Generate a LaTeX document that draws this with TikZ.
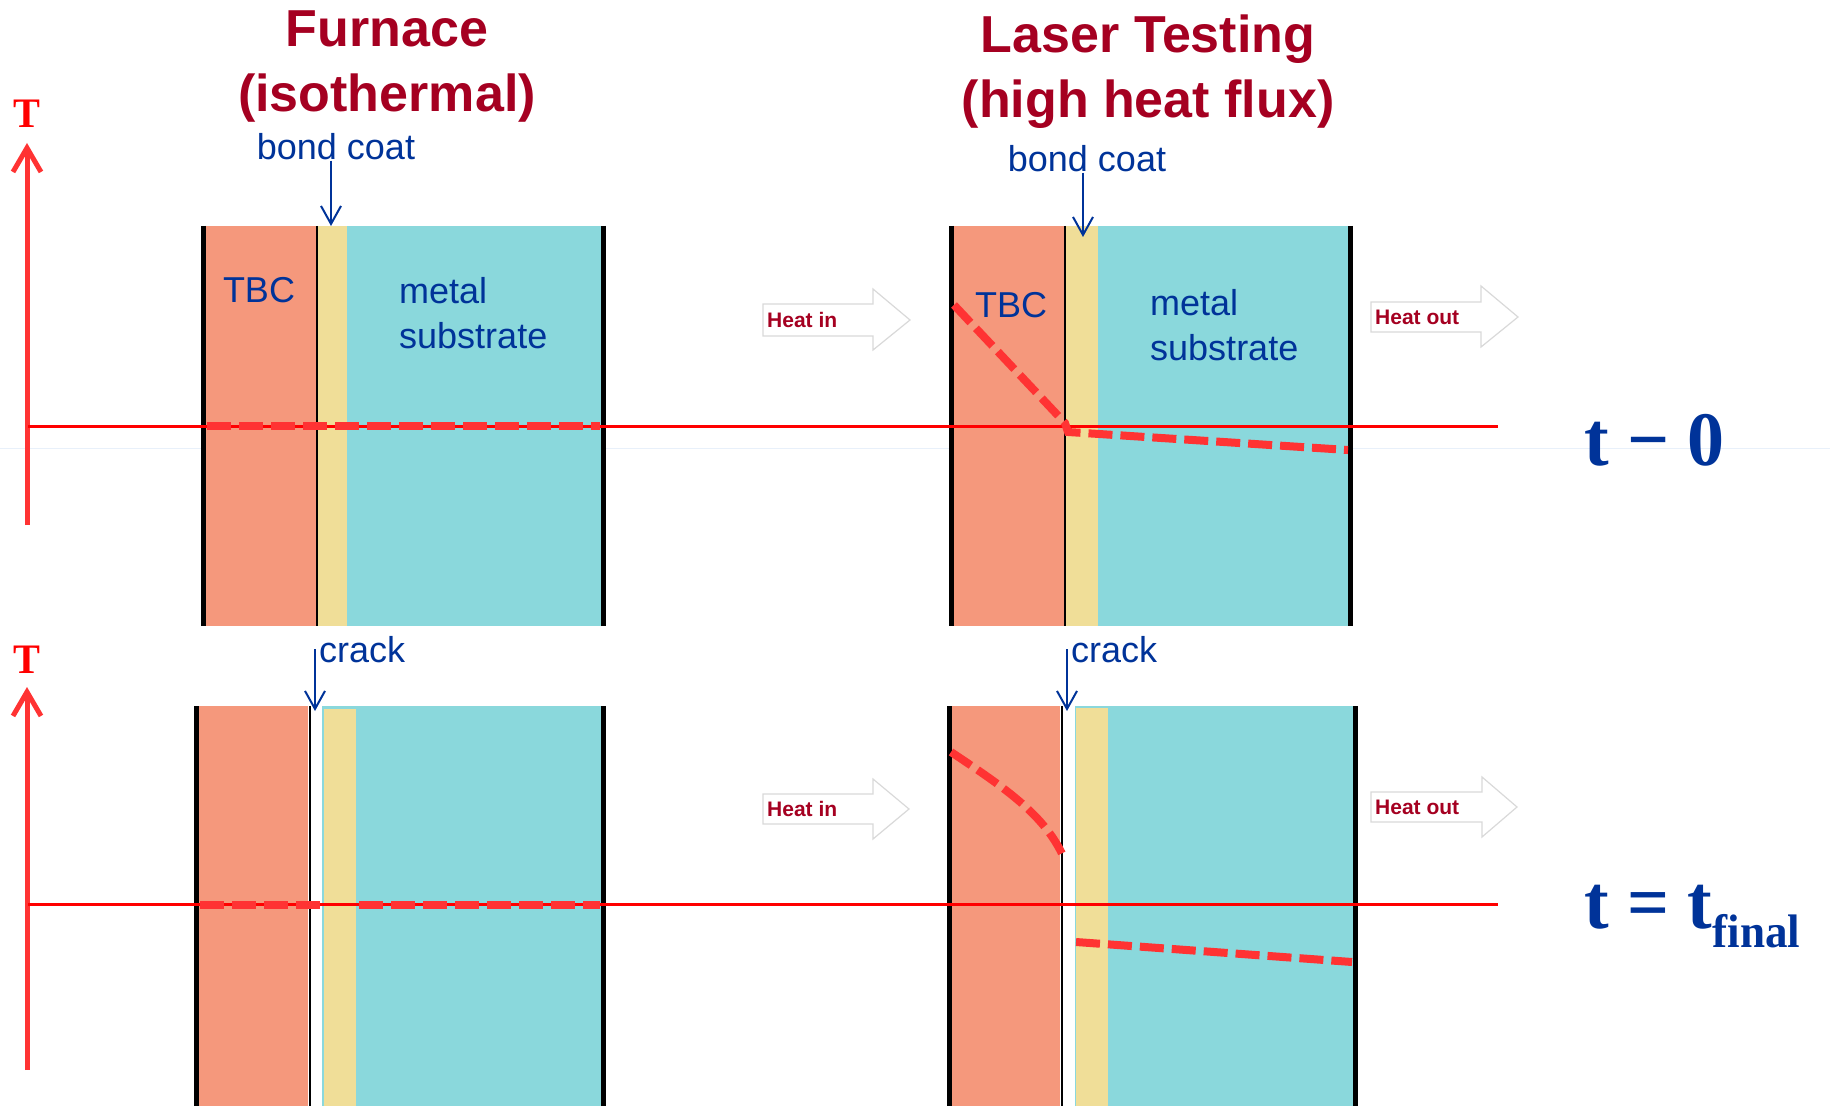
\documentclass[tikz,border=0pt]{standalone}
\usepackage{fontspec}
\setmainfont{Liberation Sans}
\newfontfamily\tnr{Liberation Serif}[FakeStretch=0.96]
\usetikzlibrary{arrows.meta}

\definecolor{tbccol}{RGB}{245,152,124}
\definecolor{bondcol}{RGB}{240,222,152}
\definecolor{metalcol}{RGB}{138,216,220}
\definecolor{lblblue}{RGB}{0,51,153}
\definecolor{ttlred}{RGB}{165,0,33}
\definecolor{tred}{RGB}{255,51,51}
\definecolor{faint}{RGB}{232,240,250}

\tikzset{
  ttl/.style={font=\fontsize{52}{60}\selectfont\bfseries, text=ttlred, inner sep=0pt, anchor=base},
  lbl/.style={font=\fontsize{36}{42}\selectfont, text=lblblue, inner sep=0pt, anchor=base west},
  heat/.style={font=\fontsize{21}{25}\selectfont\bfseries, text=ttlred, inner sep=0pt, anchor=base west},
  tlbl/.style={font={\tnr\bfseries\fontsize{77}{80}\selectfont}, text=lblblue, inner sep=0pt, anchor=base west},
  Tlbl/.style={font={\tnr\bfseries\fontsize{42}{46}\selectfont}, text=red, inner sep=0pt, anchor=base},
  pointer/.style={draw=lblblue, line width=2pt, -{Straight Barb[length=18pt,width=20pt]}},
  taxis/.style={draw=tred, line width=5pt, -{Straight Barb[length=24pt,width=28pt]}},
  rim/.style={draw=black, line width=5pt},
  seam/.style={draw=black, line width=2pt},
  level/.style={draw=red, line width=3pt},
  temp/.style={draw=tred, line width=8pt, dash pattern=on 24pt off 8pt},
  heatbox/.style={draw=black!15, line width=1.2pt, fill=white}
}

\begin{document}
\begin{tikzpicture}[x=1pt, y=-1pt]
  \useasboundingbox (0,0) rectangle (1830,1107);
  \draw[faint, line width=1pt] (0,448) -- (1830,448);

  % titles
  \node[ttl] (fur) at (387,47) {Furnace};
  \node[ttl] (iso) at (387,112) {(isothermal)};
  \node[ttl] (las) at (1148,53) {Laser Testing};
  \node[ttl] (hhf) at (1148,118) {(high heat flux)};

  % temperature axes
  \node[Tlbl] (TA) at (27,128) {T};
  \node[Tlbl] (TB) at (27,673) {T};
  \coordinate (axA0) at (27,525);
  \coordinate (axA1) at (27,143);
  \coordinate (axB0) at (27,1070);
  \coordinate (axB1) at (27,687);
  \draw[taxis] (axA0) -- (axA1);
  \draw[taxis] (axB0) -- (axB1);

  % furnace, t = 0
  \fill[tbccol] (206,226) rectangle (316,626);
  \fill[bondcol] (317,226) rectangle (347,626);
  \fill[metalcol] (347,226) rectangle (601,626);
  \draw[seam] (316.5,226) -- (316.5,626);
  \draw[rim] (203,226) -- (203,626);
  \draw[rim] (603,226) -- (603,626);

  % laser, t = 0
  \fill[tbccol] (953,226) rectangle (1064,626);
  \fill[bondcol] (1066,226) rectangle (1098,626);
  \fill[metalcol] (1098,226) rectangle (1348,626);
  \draw[seam] (1065,226) -- (1065,626);
  \draw[rim] (951,226) -- (951,626);
  \draw[rim] (1350,226) -- (1350,626);

  % furnace, t = tfinal
  \fill[tbccol] (199,706) rectangle (308,1106);
  \fill[metalcol] (322,706) rectangle (601,1106);
  \fill[bondcol] (324,709) rectangle (356,1106);
  \draw[seam] (309.5,706) -- (309.5,1106);
  \draw[rim] (196,706) -- (196,1106);
  \draw[rim] (603,706) -- (603,1106);

  % laser, t = tfinal
  \fill[tbccol] (951,706) rectangle (1060,1106);
  \fill[metalcol] (1075,706) rectangle (1353,1106);
  \fill[bondcol] (1076,708) rectangle (1108,1106);
  \draw[seam] (1062,706) -- (1062,1106);
  \draw[rim] (949,706) -- (949,1106);
  \draw[rim] (1355,706) -- (1355,1106);

  % reference levels
  \draw[level] (28,426) -- (1498,426);
  \draw[level] (28,904) -- (1498,904);

  % temperature profiles
  \draw[temp] (207,426) -- (600,426);
  \draw[temp] (954,305) -- (1065,423) -- (1068,432) -- (1348,450);
  \draw[temp] (200,905) -- (320,905);
  \draw[temp] (359,905) -- (600,905);
  \draw[temp] (951,752) .. controls (1005,788) and (1045,815) .. (1064,858);
  \draw[temp] (1076,942) -- (1352,962);

  % layer labels
  \node[lbl, anchor=base] (tbcA) at (259,302) {TBC};
  \node[lbl] (mtA) at (399,303) {metal};
  \node[lbl] (sbA) at (399,348) {substrate};
  \node[lbl, anchor=base] (tbcB) at (1011,317) {TBC};
  \node[lbl] (mtB) at (1150,315) {metal};
  \node[lbl] (sbB) at (1150,360) {substrate};

  % bond coat and crack pointers
  \node[lbl, anchor=base] (bcA) at (336,160) {bond coat};
  \node[lbl, anchor=base] (bcB) at (1087,172) {bond coat};
  \node[lbl] (crA) at (319,662) {crack};
  \node[lbl] (crB) at (1071,662) {crack};
  \coordinate (bcAtip) at (331,226);
  \coordinate (bcBtip) at (1083,237);
  \coordinate (crAtip) at (315,711);
  \coordinate (crBtip) at (1067,711);
  \draw[pointer] (bcA.south -| bcAtip) -- (bcAtip);
  \draw[pointer] (bcB.south -| bcBtip) -- (bcBtip);
  \draw[pointer] (crA.west -| crAtip) -- (crAtip);
  \draw[pointer] (crB.west -| crBtip) -- (crBtip);

  % heat arrows
  \draw[heatbox] (763,304) -- (873,304) -- (873,289) -- (910,320) -- (873,350) -- (873,336) -- (763,336) -- cycle;
  \draw[heatbox] (1371,302) -- (1481,302) -- (1481,286) -- (1518,317) -- (1481,347) -- (1481,332) -- (1371,332) -- cycle;
  \draw[heatbox] (763,794) -- (873,794) -- (873,779) -- (909,809) -- (873,839) -- (873,824) -- (763,824) -- cycle;
  \draw[heatbox] (1371,792) -- (1482,792) -- (1482,777) -- (1517,807) -- (1482,837) -- (1482,822) -- (1371,822) -- cycle;
  \node[heat] (hinA) at (767,327) {Heat in};
  \node[heat] (houtA) at (1375,324) {Heat out};
  \node[heat] (hinB) at (767,816) {Heat in};
  \node[heat] (houtB) at (1375,814) {Heat out};

  % time labels
  \node[tlbl] (tA) at (1584,465) {t − 0};
  \node[tlbl] (tB) at (1584,928) {t = t\raisebox{-19pt}{\fontsize{47}{50}\selectfont final}};
\end{tikzpicture}
\end{document}
